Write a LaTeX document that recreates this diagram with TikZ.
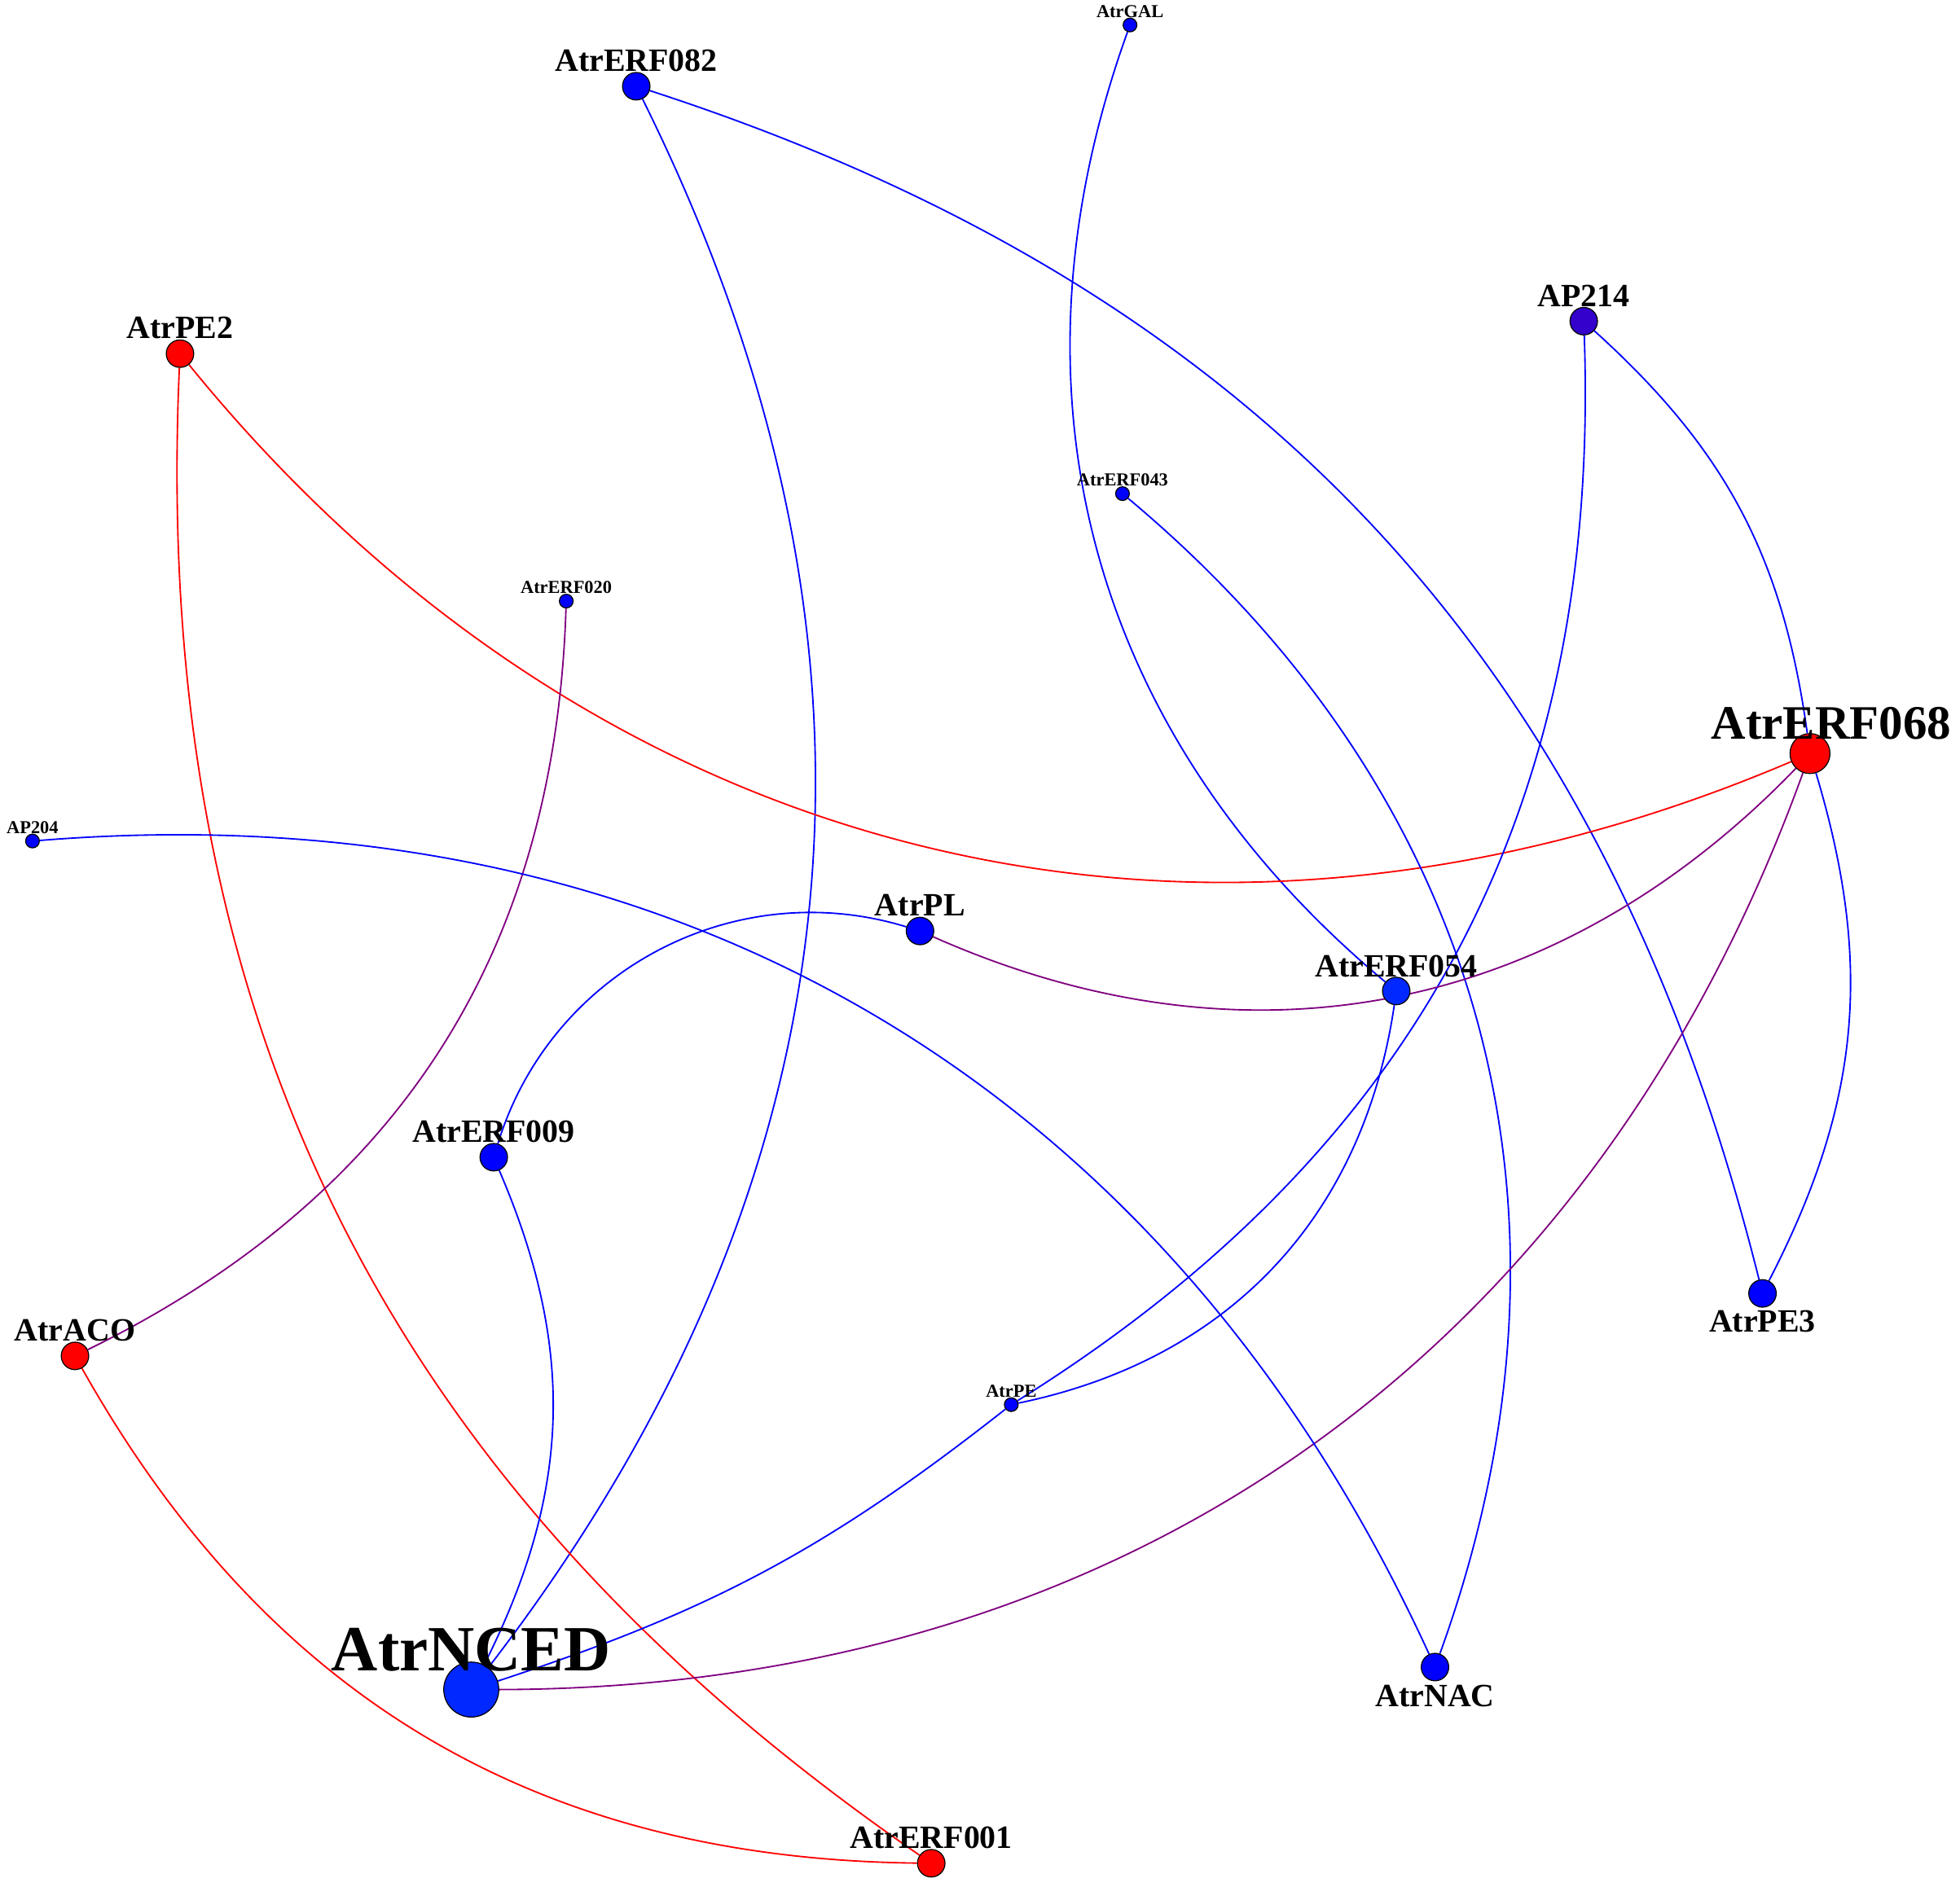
\documentclass[tikz,border=0pt]{standalone}
\usepackage{fontspec}
\setmainfont{Liberation Serif}
\usetikzlibrary{backgrounds}
\definecolor{nb}{HTML}{0000FF}
\definecolor{nb2}{HTML}{0028FF}
\definecolor{np}{HTML}{3300CC}
\definecolor{pur}{HTML}{800080}
\tikzset{
 gn/.style={circle,draw=black,line width=0.2pt,inner sep=0pt,fill=nb},
 sm/.style={gn,minimum size=2.75pt},
 md/.style={gn,minimum size=5.5pt},
 lg/.style={gn,minimum size=8pt},
 xl/.style={gn,minimum size=11pt},
 ls/.style={font=\fontsize{3.65}{3.65}\selectfont\bfseries,label distance=-3.5pt},
 lm/.style={font=\fontsize{6.5}{6.5}\selectfont\bfseries,label distance=-3.4pt},
 be/.style={nb,line width=0.3pt},
 re/.style={red,line width=0.3pt},
 pe/.style={pur,line width=0.3pt},
}
\begin{document}
\begin{tikzpicture}[x=0.25pt,y=0.25pt]
\useasboundingbox (0,0) rectangle (1568,-1510);
\node[sm,label={[ls]above:AtrGAL}] (gal) at (904,-20) {};
\node[md,label={[lm]above:AtrERF082}] (e082) at (509,-69) {};
\node[md,fill=red,label={[lm]above:AtrPE2}] (pe2) at (144,-283) {};
\node[md,fill=np,label={[lm]above:AP214}] (ap214) at (1267,-257) {};
\node[sm,label={[ls]above:AtrERF043}] (e043) at (898,-395) {};
\node[sm,label={[ls]above:AtrERF020}] (e020) at (453,-481) {};
\node[lg,fill=red,label={[font=\fontsize{9.6}{9.6}\selectfont\bfseries,label distance=-4.8pt,xshift=4.25pt]above:AtrERF068}] (e068) at (1448,-603) {};
\node[sm,label={[ls]above:AP204}] (ap204) at (26,-673) {};
\node[md,label={[lm]above:AtrPL}] (pl) at (736,-745) {};
\node[md,fill=nb2,label={[lm,label distance=-3.7pt]above:AtrERF054}] (e054) at (1117,-793) {};
\node[md,label={[lm]above:AtrERF009}] (e009) at (395,-926) {};
\node[md,label={[lm,label distance=-3pt]below:AtrPE3}] (pe3) at (1410,-1035) {};
\node[md,fill=red,label={[lm]above:AtrACO}] (aco) at (60,-1085) {};
\node[sm,label={[ls]above:AtrPE}] (pe) at (809,-1124) {};
\node[xl,fill=nb2,label={[font=\fontsize{12.9}{12.9}\selectfont\bfseries,label distance=-5.5pt]above:AtrNCED}] (nced) at (377,-1352) {};
\node[md,label={[lm,label distance=-2.8pt]below:AtrNAC}] (nac) at (1148,-1334) {};
\node[md,fill=red,label={[lm]above:AtrERF001}] (e001) at (745,-1491) {};
\begin{pgfonlayer}{background}
\draw[be] (gal) to[bend right=35] (e054);
\draw[be] (e082) to[bend left=32] (nced);
\draw[be] (e082) to[bend left=29] (pe3);
\draw[re] (pe2) to[bend right=37] (e068);
\draw[re] (pe2) to[bend right=29] (e001);
\draw[be] (ap214) to[bend left=30] (pe);
\draw[be] (ap214) to[bend left=20] (e068);
\draw[be] (e043) to[bend left=35] (nac);
\draw[pe] (e020) to[bend left=31] (aco);
\draw[pe] (pl) to[bend right=35] (e068);
\draw[pe] (e068) to[bend left=35] (nced);
\draw[be] (e068) to[bend left=22] (pe3);
\draw[be] (ap204) to[bend left=35] (nac);
\draw[be] (pl) to[bend right=45] (e009);
\draw[be] (e054) to[bend left=35] (pe);
\draw[be] (pe) to[bend left=10] (nced);
\draw[be] (e009) to[bend left=25] (nced);
\draw[re] (aco) to[bend right=30] (e001);
\end{pgfonlayer}
\end{tikzpicture}
\end{document}
